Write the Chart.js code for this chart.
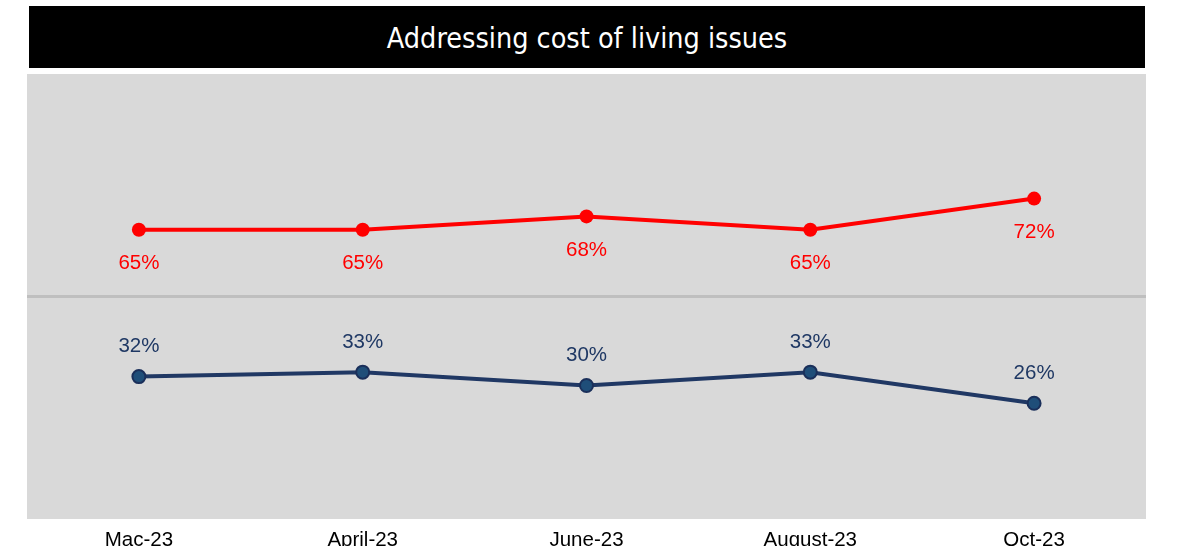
<!DOCTYPE html>
<html>
<head>
<meta charset="utf-8">
<script src="https://cdn.jsdelivr.net/npm/chart.js@4.4.0/dist/chart.umd.min.js"></script>
<style>
  html, body { margin: 0; padding: 0; background: #fff; overflow: hidden; }
  #wrap { position: relative; width: 1180px; height: 560px; }
  #title {
    position: absolute; left: 29px; top: 6px; width: 1116px; height: 62px;
    background: #000; color: #fff; text-align: center;
    font-family: "DejaVu Sans Condensed", "DejaVu Sans", sans-serif;
    font-size: 28.5px; line-height: 66px;
  }
  #chart { position: absolute; left: 0; top: 0; }
</style>
</head>
<body>
<div id="wrap">
  <canvas id="chart" width="1180" height="560"></canvas>
  <div id="title">Addressing cost of living issues</div>
</div>
<script>
const months = ['Mac-23', 'April-23', 'June-23', 'August-23', 'Oct-23'];
const redValues = [65, 65, 68, 65, 72];
const blueValues = [32, 33, 30, 33, 26];
const midLine = 50;

// grey plot background and the 50% divider line
const backdrop = {
    id: 'backdrop',
    beforeDraw(chart) {
        const { ctx, chartArea: a, scales } = chart;
        ctx.save();
        ctx.fillStyle = '#d9d9d9';
        ctx.fillRect(a.left, a.top, a.right - a.left, a.bottom - a.top);
        const y = scales.y.getPixelForValue(midLine);
        ctx.strokeStyle = '#bfbfbf';
        ctx.lineWidth = 3;
        ctx.beginPath();
        ctx.moveTo(a.left, y);
        ctx.lineTo(a.right, y);
        ctx.stroke();
        ctx.restore();
    }
};

// value labels: red below the points, blue above
const valueLabels = {
    id: 'valueLabels',
    afterDatasetsDraw(chart) {
        const ctx = chart.ctx;
        ctx.save();
        ctx.font = '20.5px "Liberation Sans", Arial, sans-serif';
        ctx.textAlign = 'center';
        ctx.textBaseline = 'middle';
        chart.data.datasets.forEach((ds, i) => {
            const meta = chart.getDatasetMeta(i);
            meta.data.forEach((pt, j) => {
                ctx.fillStyle = ds.labelColor;
                ctx.fillText(ds.data[j] + '%', pt.x, pt.y + ds.labelOffset);
            });
        });
        ctx.restore();
    }
};

new Chart(document.getElementById('chart').getContext('2d'), {
    type: 'line',
    data: {
        labels: months,
        datasets: [{
            data: redValues,
            borderColor: '#ff0000',
            backgroundColor: '#ff0000',
            borderWidth: 4,
            pointRadius: 7,
            pointBorderWidth: 0,
            pointBackgroundColor: '#ff0000',
            labelColor: '#ff0000',
            labelOffset: 34
        }, {
            data: blueValues,
            borderColor: '#203864',
            backgroundColor: '#1f4e79',
            borderWidth: 4,
            pointRadius: 6.5,
            pointBorderWidth: 2,
            pointBorderColor: '#1a2f5a',
            pointBackgroundColor: '#1f4e79',
            labelColor: '#1f3864',
            labelOffset: -30
        }]
    },
    options: {
        responsive: false,
        animation: false,
        layout: { padding: { left: 27, right: 34, top: 74, bottom: 0 } },
        plugins: {
            legend: { display: false },
            tooltip: { enabled: false }
        },
        scales: {
            x: {
                offset: true,
                grid: { display: false, drawTicks: false },
                border: { display: false },
                ticks: {
                    color: '#000',
                    padding: 9,
                    font: { family: '"Liberation Sans", Arial, sans-serif', size: 20.5 }
                },
                afterFit(scale) { scale.height = 41; }
            },
            y: {
                display: false,
                min: 0,
                max: 100
            }
        }
    },
    plugins: [backdrop, valueLabels]
});
</script>
</body>
</html>
